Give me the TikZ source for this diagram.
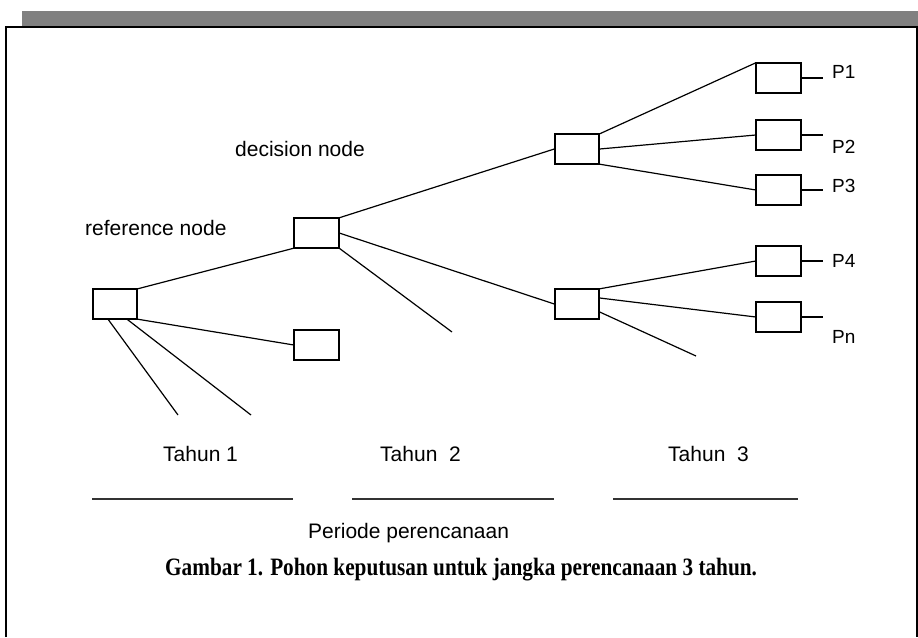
\documentclass[tikz,border=0pt]{standalone}
\usepackage{fontspec}
\setmainfont{Liberation Sans}
\newfontfamily\capfont{Liberation Serif}
\usepackage{graphicx}
\begin{document}
\begin{tikzpicture}[x=1pt,y=-1pt,
  box/.style={draw=black,line width=1.4pt,minimum width=44pt,minimum height=29pt,inner sep=0pt,fill=white},
  link/.style={line width=1.2pt,black},
  lbl/.style={inner sep=0pt,anchor=base west,font=\fontsize{21}{25}\selectfont},
  plbl/.style={inner sep=0pt,anchor=base west,font=\fontsize{19}{23}\selectfont},
  rule/.style={line width=1.5pt,black!80}]
\useasboundingbox (0,0) rectangle (918,637);
\fill[white] (0,0) rectangle (918,637);
% header bar and frame
\fill[black!50] (22,11) rectangle (918,26);
\draw[line width=2pt] (6,637) -- (6,27) -- (917,27) -- (917,637);
% boxes
\node[box] (root) at (115,304) {};
\node[box] (dec) at (316.5,233) {};
\node[box] (small) at (316.5,345) {};
\node[box] (u3) at (577,149) {};
\node[box] (l3) at (577,304) {};
\node[box] (p1) at (778.5,78) {};
\node[box] (p2) at (778.5,135) {};
\node[box] (p3) at (778.5,190) {};
\node[box] (p4) at (778.5,261) {};
\node[box] (pn) at (778.5,317) {};
% free ends
\coordinate (r1) at (178,415);
\coordinate (r2) at (251,415);
\coordinate (d1) at (452,332);
\coordinate (l1) at (696,356);
\coordinate (s1) at (823,78);
\coordinate (s2) at (823,135);
\coordinate (s3) at (823,190);
\coordinate (s4) at (823,261);
\coordinate (s5) at (823,317);
% connectors
\draw[link] (root.north east) -- (dec.south west);
\draw[link] (root.south east) -- (small.west);
\draw[link] ([xshift=-7pt]root.south) -- (r1);
\draw[link] ([xshift=12pt]root.south) -- (r2);
\draw[link] (dec.north east) -- (u3.west);
\draw[link] (dec.east) -- (l3.west);
\draw[link] (dec.south east) -- (d1);
\draw[link] (u3.north east) -- (p1.north west);
\draw[link] (u3.east) -- (p2.west);
\draw[link] (u3.south east) -- (p3.west);
\draw[link] (l3.north east) -- (p4.west);
\draw[link] ([yshift=6pt]l3.east) -- (pn.west);
\draw[link] ([yshift=-8pt]l3.east) -- (l1);
\draw[link] (p1.east) -- (s1);
\draw[link] (p2.east) -- (s2);
\draw[link] (p3.east) -- (s3);
\draw[link] (p4.east) -- (s4);
\draw[link] (pn.east) -- (s5);
% redraw boxes on top
\foreach \n in {root,dec,small,u3,l3,p1,p2,p3,p4,pn} {\draw[line width=1.4pt] (\n.north west) rectangle (\n.south east);}
% labels
\node[plbl] (tp1) at (832,78) {P1};
\node[plbl] (tp2) at (832,153) {P2};
\node[plbl] (tp3) at (832,192) {P3};
\node[plbl] (tp4) at (832,267) {P4};
\node[plbl] (tpn) at (832,343) {Pn};
\node[lbl] (tref) at (85,235) {reference node};
\node[lbl] (tdec) at (235,156) {decision node};
\node[lbl] (t1) at (163,461) {Tahun 1};
\node[lbl] (t2) at (380,461) {Tahun~ 2};
\node[lbl] (t3) at (668,461) {Tahun~ 3};
\draw[rule] (92,499) -- (293,499);
\draw[rule] (352,499) -- (554,499);
\draw[rule] (613,499) -- (798,499);
\node[lbl] (per) at (308,538) {Periode perencanaan};
\node[inner sep=0pt,anchor=base west] (cap) at (165,575) {\scalebox{0.85}[1]{\capfont\bfseries\fontsize{25}{30}\selectfont Gambar 1. Pohon keputusan untuk jangka perencanaan 3 tahun.}};
\end{tikzpicture}
\end{document}
